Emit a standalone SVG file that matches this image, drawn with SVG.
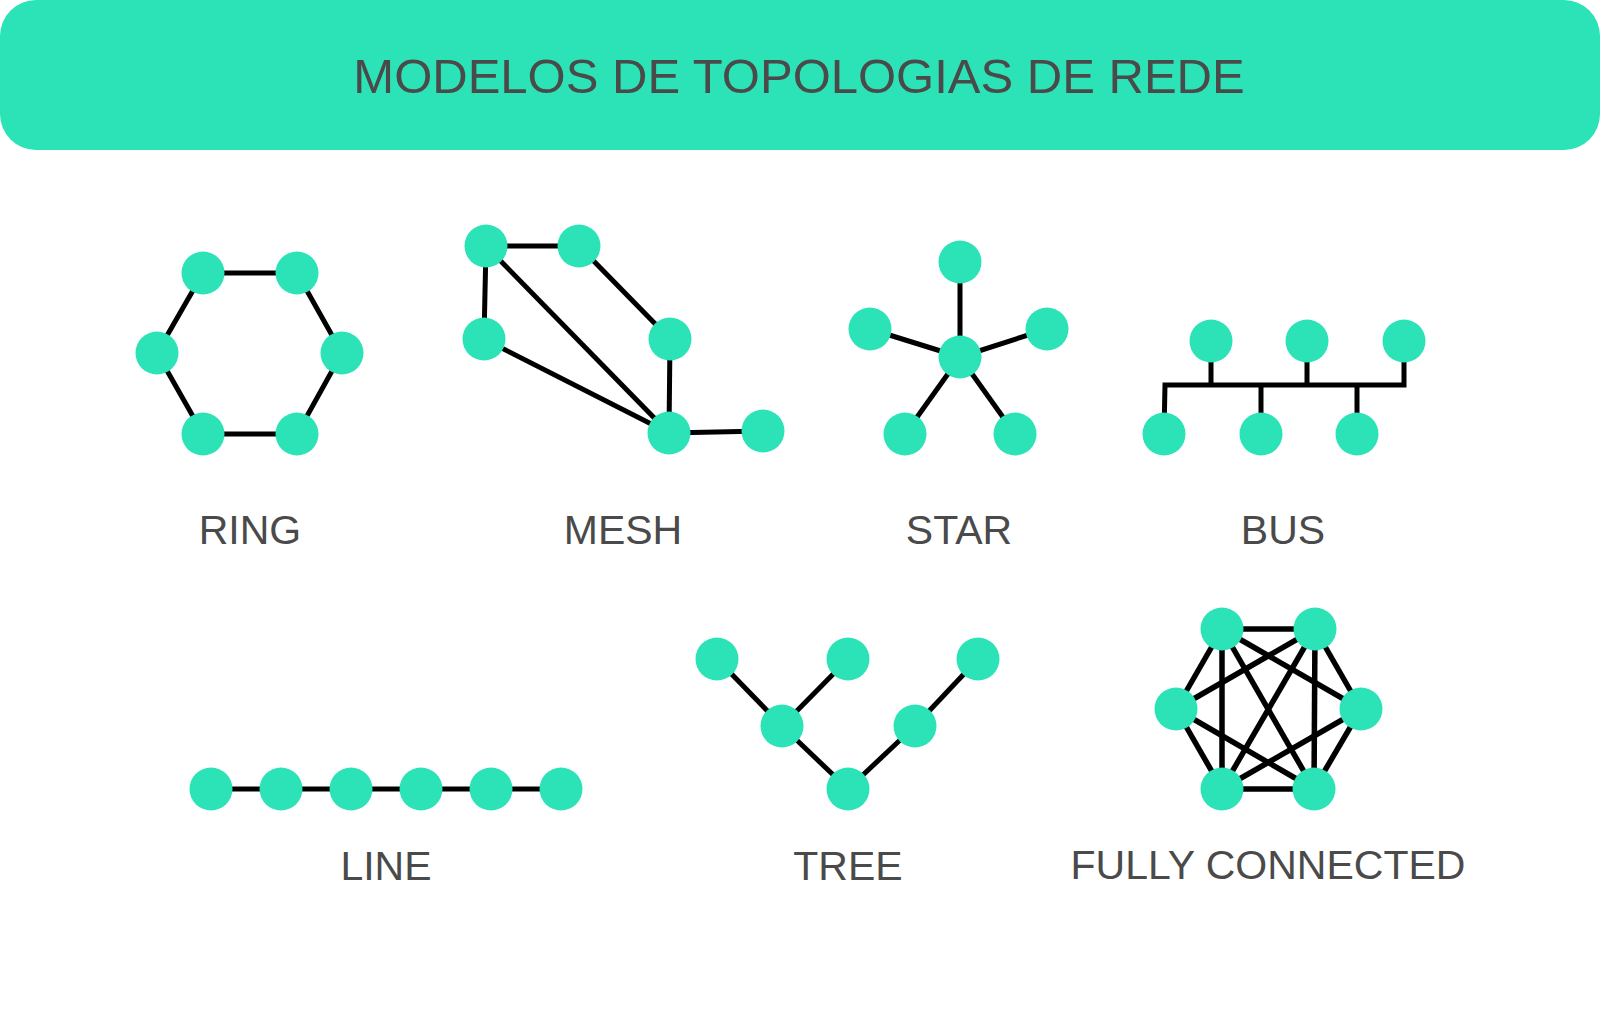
<svg xmlns="http://www.w3.org/2000/svg" width="1600" height="1030" viewBox="0 0 1600 1030">
<style>
.n{fill:#2ce3b7}
.e{stroke:#000;stroke-width:5;fill:none;stroke-linecap:butt}
.fc{stroke-width:5.5}
.t{font-family:"Liberation Sans",Arial,sans-serif;fill:#4a4a4a;text-anchor:middle}
.lbl{font-size:41px}
</style>
<rect width="1600" height="1030" fill="#fff"/>
<g id="header">
<rect x="0" y="0" width="1600" height="150" rx="36" ry="36" fill="#2ce3b7"/>
<text class="t" x="799" y="93" font-size="49">MODELOS DE TOPOLOGIAS DE REDE</text>
</g>
<g id="connectors">
<polygon class="e" points="203,273 297,273 342,353 297,434 203,434 157,353"/>
<line class="e" x1="486" y1="246" x2="579" y2="246"/>
<line class="e" x1="486" y1="246" x2="484" y2="339"/>
<line class="e" x1="486" y1="246" x2="669" y2="433"/>
<line class="e" x1="579" y1="246" x2="670" y2="339"/>
<line class="e" x1="670" y1="339" x2="669" y2="433"/>
<line class="e" x1="484" y1="339" x2="669" y2="433"/>
<line class="e" x1="669" y1="433" x2="763" y2="431"/>
<line class="e" x1="960" y1="357" x2="960" y2="262"/>
<line class="e" x1="960" y1="357" x2="870" y2="329"/>
<line class="e" x1="960" y1="357" x2="1047" y2="329"/>
<line class="e" x1="960" y1="357" x2="905" y2="434"/>
<line class="e" x1="960" y1="357" x2="1015" y2="434"/>
<polyline class="e" points="1164,434 1165,385 1404,385 1404,341"/>
<line class="e" x1="1211" y1="341" x2="1211" y2="385"/>
<line class="e" x1="1307" y1="341" x2="1307" y2="385"/>
<line class="e" x1="1261" y1="385" x2="1261" y2="434"/>
<line class="e" x1="1357" y1="385" x2="1357" y2="434"/>
<line class="e" x1="211" y1="789" x2="561" y2="789"/>
<line class="e" x1="717" y1="659" x2="782" y2="726"/>
<line class="e" x1="848" y1="659" x2="782" y2="726"/>
<line class="e" x1="782" y1="726" x2="848" y2="789"/>
<line class="e" x1="848" y1="789" x2="915" y2="726"/>
<line class="e" x1="915" y1="726" x2="978" y2="659"/>
<g class="e fc">
<line x1="1222" y1="629" x2="1315" y2="629"/>
<line x1="1222" y1="629" x2="1176" y2="709"/>
<line x1="1222" y1="629" x2="1361" y2="709"/>
<line x1="1222" y1="629" x2="1222" y2="789"/>
<line x1="1222" y1="629" x2="1314" y2="789"/>
<line x1="1315" y1="629" x2="1176" y2="709"/>
<line x1="1315" y1="629" x2="1361" y2="709"/>
<line x1="1315" y1="629" x2="1222" y2="789"/>
<line x1="1315" y1="629" x2="1314" y2="789"/>
<line x1="1176" y1="709" x2="1222" y2="789"/>
<line x1="1176" y1="709" x2="1314" y2="789"/>
<line x1="1361" y1="709" x2="1222" y2="789"/>
<line x1="1361" y1="709" x2="1314" y2="789"/>
<line x1="1222" y1="789" x2="1314" y2="789"/>
</g>
</g>
<g id="ring">
<circle class="n" cx="203" cy="273" r="21.5"/>
<circle class="n" cx="297" cy="273" r="21.5"/>
<circle class="n" cx="157" cy="353" r="21.5"/>
<circle class="n" cx="342" cy="353" r="21.5"/>
<circle class="n" cx="203" cy="434" r="21.5"/>
<circle class="n" cx="297" cy="434" r="21.5"/>
<text class="t lbl" x="250" y="544">RING</text>
</g>
<g id="mesh">
<circle class="n" cx="486" cy="246" r="21.5"/>
<circle class="n" cx="579" cy="246" r="21.5"/>
<circle class="n" cx="484" cy="339" r="21.5"/>
<circle class="n" cx="670" cy="339" r="21.5"/>
<circle class="n" cx="669" cy="433" r="21.5"/>
<circle class="n" cx="763" cy="431" r="21.5"/>
<text class="t lbl" x="623" y="544">MESH</text>
</g>
<g id="star">
<circle class="n" cx="960" cy="262" r="21.5"/>
<circle class="n" cx="870" cy="329" r="21.5"/>
<circle class="n" cx="1047" cy="329" r="21.5"/>
<circle class="n" cx="960" cy="357" r="21.5"/>
<circle class="n" cx="905" cy="434" r="21.5"/>
<circle class="n" cx="1015" cy="434" r="21.5"/>
<text class="t lbl" x="959" y="544">STAR</text>
</g>
<g id="bus">
<circle class="n" cx="1211" cy="341" r="21.5"/>
<circle class="n" cx="1307" cy="341" r="21.5"/>
<circle class="n" cx="1404" cy="341" r="21.5"/>
<circle class="n" cx="1164" cy="434" r="21.5"/>
<circle class="n" cx="1261" cy="434" r="21.5"/>
<circle class="n" cx="1357" cy="434" r="21.5"/>
<text class="t lbl" x="1283" y="544">BUS</text>
</g>
<g id="line">
<circle class="n" cx="211" cy="789" r="21.5"/>
<circle class="n" cx="281" cy="789" r="21.5"/>
<circle class="n" cx="351" cy="789" r="21.5"/>
<circle class="n" cx="421" cy="789" r="21.5"/>
<circle class="n" cx="491" cy="789" r="21.5"/>
<circle class="n" cx="561" cy="789" r="21.5"/>
<text class="t lbl" x="386" y="880">LINE</text>
</g>
<g id="tree">
<circle class="n" cx="717" cy="659" r="21.5"/>
<circle class="n" cx="848" cy="659" r="21.5"/>
<circle class="n" cx="978" cy="659" r="21.5"/>
<circle class="n" cx="782" cy="726" r="21.5"/>
<circle class="n" cx="915" cy="726" r="21.5"/>
<circle class="n" cx="848" cy="789" r="21.5"/>
<text class="t lbl" x="848" y="880">TREE</text>
</g>
<g id="fully-connected">
<circle class="n" cx="1222" cy="629" r="21.5"/>
<circle class="n" cx="1315" cy="629" r="21.5"/>
<circle class="n" cx="1176" cy="709" r="21.5"/>
<circle class="n" cx="1361" cy="709" r="21.5"/>
<circle class="n" cx="1222" cy="789" r="21.5"/>
<circle class="n" cx="1314" cy="789" r="21.5"/>
<text class="t lbl" x="1268" y="879">FULLY CONNECTED</text>
</g>
</svg>
